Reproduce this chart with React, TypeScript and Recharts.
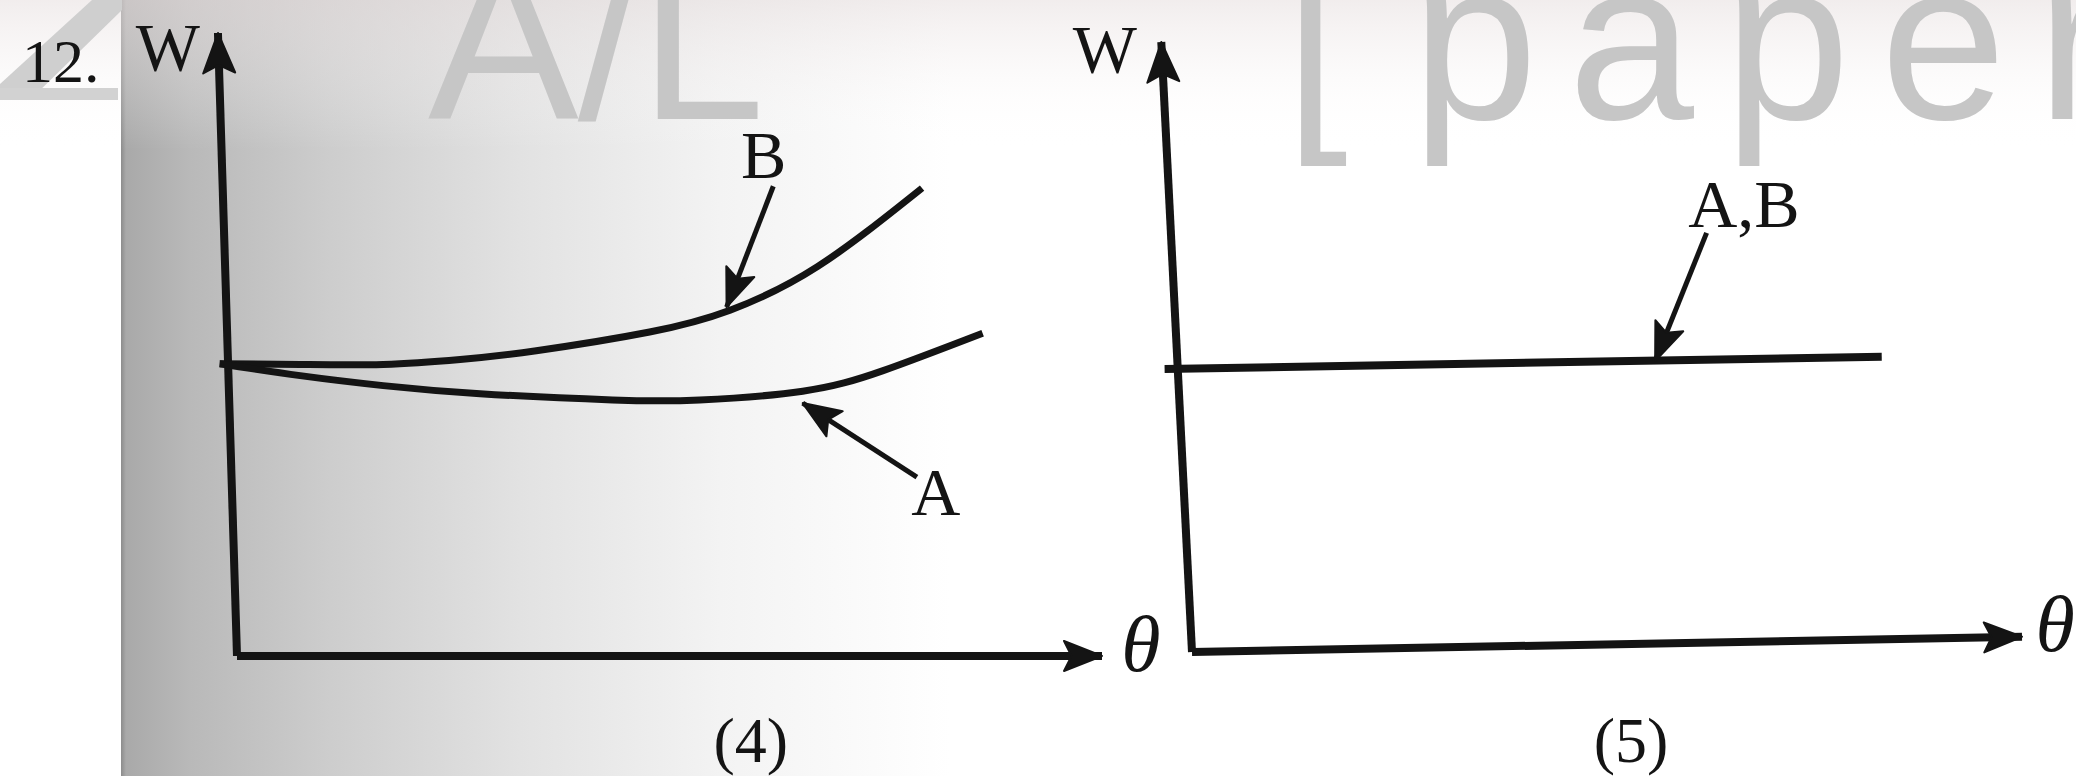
import React from "react";
import { LineChart, Line, XAxis, YAxis, ReferenceDot } from "recharts";

// ---- panel (4): W against theta, curves A and B ----
const theta4B = [-0.2, 0.73, 1.69, 2.58, 3.46, 4.77, 5.7, 6.71, 7.92];
const w4B = [4.69, 4.68, 4.68, 4.76, 4.9, 5.2, 5.55, 6.25, 7.51];
const theta4A = [-0.2, 0.73, 1.69, 2.81, 4.34, 5.35, 6.54, 7.47, 8.62];
const w4A = [4.69, 4.5, 4.34, 4.21, 4.11, 4.11, 4.25, 4.58, 5.18];

// axis lines (start -> arrow tip)
const axisY4Theta = [0, -0.22];
const axisY4W = [0, 10];
const axisX4Theta = [0, 10];
const axisX4W = [0, 0];

// pointer arrows (label end -> curve end)
const pointB4Theta = [6.2, 5.66];
const pointB4W = [7.54, 5.6];
const pointA4Theta = [7.86, 6.54];
const pointA4W = [2.87, 4.06];

// ---- panel (5): A and B coincide ----
const theta5AB = [-0.33, 8.31];
const w5AB = [4.64, 4.84];
const axisY5Theta = [0, -0.37];
const axisY5W = [0, 10];
const axisX5Theta = [0, 10];
const axisX5W = [0, 0.25];
const pointAB5Theta = [6.2, 5.58];
const pointAB5W = [6.87, 4.77];

// text labels in data space
const labels4 = [
  { text: "W", t: -0.8, w: 9.41, italic: false },
  { text: "B", t: 6.09, w: 7.67, italic: false },
  { text: "A", t: 8.08, w: 2.26, italic: false },
  { text: "θ", t: 10.45, w: -0.24, italic: true },
  { text: "(4)", t: 5.94, w: -1.7, italic: false },
];
const labels5 = [
  { text: "W", t: -1.05, w: 9.51, italic: false },
  { text: "A,B", t: 6.65, w: 6.97, italic: false },
  { text: "θ", t: 10.4, w: 0.02, italic: true },
  { text: "(5)", t: 5.29, w: -1.8, italic: false },
];

const rows = (ts: number[], ws: number[]) => ts.map((t, i) => ({ t, w: ws[i] }));

const INK = "#141414";
const SERIF = "'Liberation Serif', 'DejaVu Serif', serif";

// arrowhead drawn on the last point of a line, along its last segment
const arrowHead = (len: number, wid: number) => (props: any) => {
  const { cx, cy, index, points } = props;
  if (!points || index !== points.length - 1 || index === 0) return null;
  const prev = points[index - 1];
  const a = Math.atan2(cy - prev.y, cx - prev.x);
  const bx = cx - len * Math.cos(a);
  const by = cy - len * Math.sin(a);
  const nx = -Math.sin(a) * (wid / 2);
  const ny = Math.cos(a) * (wid / 2);
  const pts = `${cx},${cy} ${bx + nx},${by + ny} ${bx + len * 0.2 * Math.cos(a)},${by + len * 0.2 * Math.sin(a)} ${bx - nx},${by - ny}`;
  return <polygon key={`arrow-${index}`} points={pts} fill={INK} stroke={INK} strokeWidth={2} strokeLinejoin="round" />;
};

const labelShape = (text: string, italic: boolean) => (p: any) => (
  <text
    x={p.cx}
    y={p.cy}
    textAnchor="middle"
    fontFamily={SERIF}
    fontStyle={italic ? "italic" : "normal"}
    fontSize={italic ? 80 : text.startsWith("(") ? 64 : 68}
    fill={INK}
  >
    {text}
  </text>
);

const Panel = ({ children, labels, margin, width }: any) => (
  <LineChart width={width} height={776} margin={margin}>
    <XAxis type="number" dataKey="t" domain={[-2, 11]} tickCount={14} hide />
    <YAxis type="number" dataKey="w" domain={[0, 10]} tickCount={11} hide width={0} />
    {children}
    {labels.map((l: any) => (
      <ReferenceDot
        key={l.text}
        x={l.t}
        y={l.w}
        r={0}
        ifOverflow="visible"
        shape={labelShape(l.text, l.italic)}
      />
    ))}
  </LineChart>
);

const seg = (key: string, data: any[], width: number, arrow?: [number, number], type = "linear") => (
  <Line
    key={key}
    data={data}
    dataKey="w"
    type={type as any}
    stroke={INK}
    strokeWidth={width}
    strokeLinecap="butt"
    dot={arrow ? arrowHead(arrow[0], arrow[1]) : false}
    activeDot={false}
    isAnimationActive={false}
  />
);

export default function App() {
  return (
    <div
      style={{
        position: "relative",
        width: 2076,
        height: 776,
        overflow: "hidden",
        background:
          "linear-gradient(to right, #ffffff 0px, #ffffff 121px, #8c8c8c 121px, #a9a9a9 126px, #b9b9b9 190px, #cdcdcd 330px, #e2e2e2 520px, #f3f3f3 720px, #ffffff 950px)",
      }}
    >
      <style>{`body{margin:0}`}</style>
      {/* scan watermark */}
      <svg width={2076} height={776} style={{ position: "absolute", left: 0, top: 0 }}>
        <defs>
          <linearGradient id="topfade" x1="0" y1="0" x2="0" y2="1">
            <stop offset="0" stopColor="#e6dede" stopOpacity={0.55} />
            <stop offset="1" stopColor="#ffffff" stopOpacity={0} />
          </linearGradient>
        </defs>
        <rect x={0} y={0} width={2076} height={150} fill="url(#topfade)" />
        <polygon points="0,100 0,84 92,0 122,0 122,10 30,100" fill="#cfcfcf" />
        <rect x={0} y={88} width={118} height={12} fill="#d2d2d2" />
        <g fontFamily="'Liberation Sans', Arial, sans-serif" fill="#c6c6c6" fontSize={226}>
          <text x={428} y={119} textLength={337}>A/L</text>
          <text x={1285} y={119}>[</text>
          <text x={1412} y={119} textLength={700}>paper</text>
        </g>
        <text x={22} y={82} fontFamily={SERIF} fontSize={62} fill={INK}>
          12.
        </text>
      </svg>

      <div style={{ position: "absolute", left: 0, top: 0 }}>
        <Panel width={1200} margin={{ top: 33, right: 11.5, bottom: 120, left: 64 }} labels={labels4}>
          {seg("axy4", rows(axisY4Theta, axisY4W), 8, [40, 32])}
          {seg("axx4", rows(axisX4Theta, axisX4W), 8, [38, 30])}
          {seg("curveB", rows(theta4B, w4B), 7, undefined, "natural")}
          {seg("curveA", rows(theta4A, w4A), 7, undefined, "natural")}
          {seg("ptrB", rows(pointB4Theta, pointB4W), 5, [38, 30])}
          {seg("ptrA", rows(pointA4Theta, pointA4W), 5, [38, 30])}
        </Panel>
      </div>

      <div style={{ position: "absolute", left: 900, top: 0 }}>
        <Panel width={1220} margin={{ top: 42, right: 15, bottom: 124, left: 126 }} labels={labels5}>
          {seg("axy5", rows(axisY5Theta, axisY5W), 8, [40, 32])}
          {seg("axx5", rows(axisX5Theta, axisX5W), 8, [38, 30])}
          {seg("lineAB", rows(theta5AB, w5AB), 8)}
          {seg("ptrAB", rows(pointAB5Theta, pointAB5W), 5, [38, 30])}
        </Panel>
      </div>
    </div>
  );
}
